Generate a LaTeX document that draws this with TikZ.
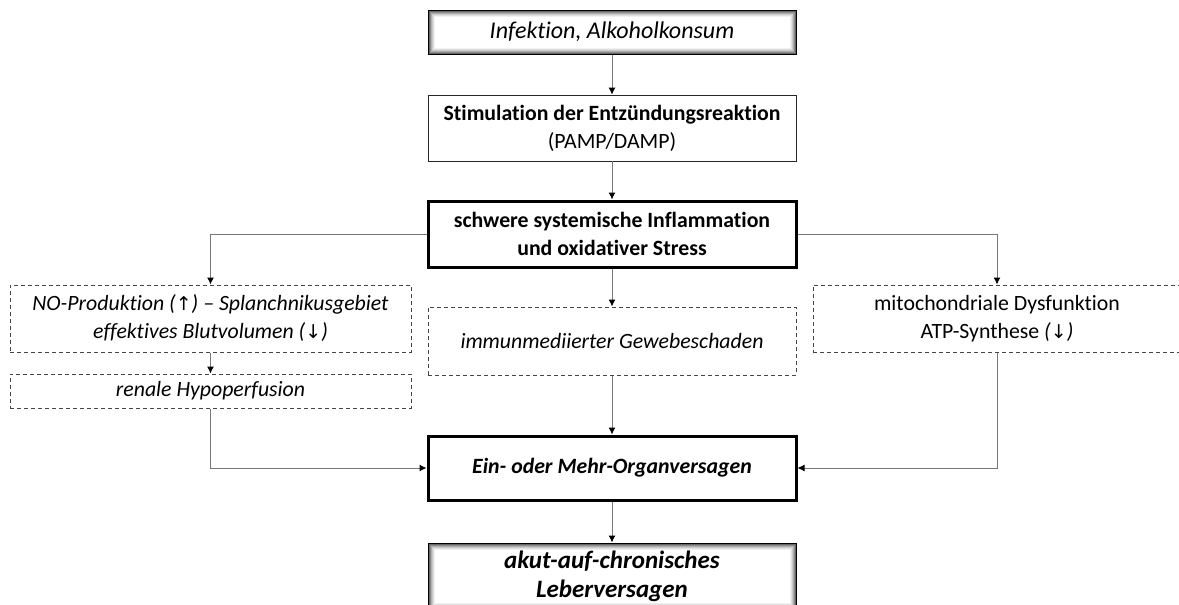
\documentclass[tikz,border=0pt]{standalone}
\usepackage{fontspec}
\setmainfont{Carlito}[Ligatures={NoCommon}]
\newfontfamily\arrfont{DejaVu Sans}
\usetikzlibrary{arrows.meta}
\newcommand{\up}{{\arrfont\upshape\fontsize{19}{27}\selectfont ↑}}
\newcommand{\dn}{{\arrfont\upshape\fontsize{19}{27}\selectfont ↓}}
\definecolor{conn}{RGB}{120,120,120}
\definecolor{dashc}{RGB}{70,70,70}
\tikzset{
  base/.style={minimum width=368pt, inner sep=0pt, align=center,
    font=\fontsize{21.8}{28}\selectfont, text=black},
  plainbox/.style={base, draw=black!85, line width=0.8pt},
  thickbox/.style={base, draw=black, line width=3pt},
  shadebox/.style={base, draw=black, line width=1pt},
  dashbox/.style={base, draw=dashc, line width=1pt, dash pattern=on 4pt off 3pt},
  conn/.style={draw=conn, line width=1pt, -{Latex[length=7pt,width=7pt,color=black]}},
}
\begin{document}
\begin{tikzpicture}[x=1pt,y=-1pt]
\useasboundingbox (0,0) rectangle (1179,605);
\fill[white] (0,0) rectangle (1179,605);
% nodes
\node[shadebox, minimum height=44pt, font=\fontsize{24}{28}\selectfont] (top) at (612,32) {\itshape Infektion, Alkoholkonsum};
\node[plainbox, minimum height=66pt] (stim) at (612,128) {\bfseries Stimulation der Entzündungsreaktion\\(PAMP/DAMP)};
\node[thickbox, minimum height=66pt] (infl) at (612,234) {\bfseries schwere systemische Inflammation\\\bfseries und oxidativer Stress};
\node[dashbox, minimum width=401pt, minimum height=67pt] (no) at (210.5,318.5) {\itshape NO-Produktion (\up) – Splanchnikusgebiet\\\itshape effektives Blutvolumen (\dn)};
\node[dashbox, minimum width=401pt, minimum height=34pt] (ren) at (210.5,391) {\itshape renale Hypoperfusion};
\node[dashbox, minimum height=68pt] (imm) at (612,341) {\itshape immunmediierter Gewebeschaden};
\node[dashbox, minimum height=67pt] (mito) at (997,318.5) {mitochondriale Dysfunktion\\ATP-Synthese \textit{(\dn)}};
\node[thickbox, minimum height=64pt] (organ) at (612,468) {\bfseries\itshape Ein- oder Mehr-Organversagen};
\node[shadebox, minimum height=66pt, font=\fontsize{25}{29}\selectfont] (aclf) at (612,576) {\bfseries\itshape akut-auf-chronisches\\\bfseries\itshape Leberversagen};
% inner shadows
\foreach \n in {top,aclf}{
  \foreach \i/\c in {1.5/60,2.5/45,3.5/32,4.5/21,5.5/12,6.5/6}{
    \draw[black!\c, line width=1pt] ([shift={(\i,\i)}]\n.north west) rectangle ([shift={(-\i,-\i)}]\n.south east);
  }
}
% connectors
\draw[conn] (top) -- (stim);
\draw[conn] (stim) -- (infl);
\draw[conn] (infl.west) -| (no.north);
\draw[conn] (infl.east) -| (mito.north);
\draw[conn] (infl) -- (imm);
\draw[conn] (no) -- (ren);
\draw[conn] (ren.south) |- (organ.west);
\draw[conn] (imm) -- (organ);
\draw[conn] (mito.south) |- (organ.east);
\draw[conn] (organ) -- (aclf);
\end{tikzpicture}
\end{document}
